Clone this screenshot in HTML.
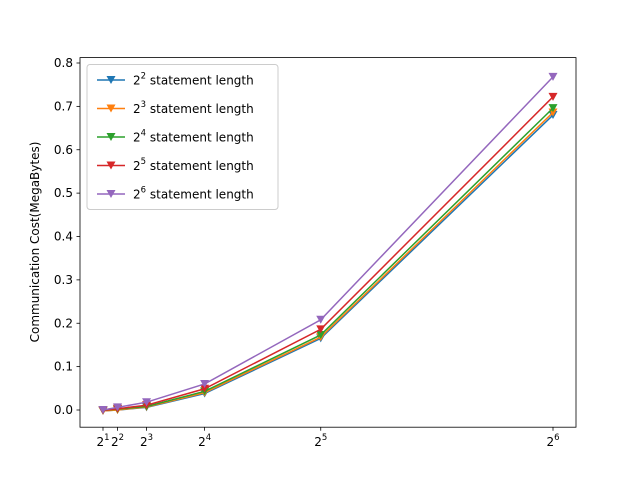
<!DOCTYPE html>
<html><head><meta charset="utf-8"><style>body{margin:0;background:#fff}svg{display:block;font-family:"DejaVu Sans","Liberation Sans",sans-serif}</style></head>
<body>
<svg id="c" width="640" height="480" xmlns="http://www.w3.org/2000/svg"></svg>
<script>
const xs=[2,4,8,16,32,64];
const xTickExp=[1,2,3,4,5,6];
const yTicks=[0,0.1,0.2,0.3,0.4,0.5,0.6,0.7,0.8];
const seriesExp=[2,3,4,5,6];
const s1=[-0.002,0.000,0.006,0.038,0.165,0.680];
const s2=[-0.002,0.000,0.007,0.040,0.168,0.686];
const s3=[-0.001,0.002,0.008,0.043,0.173,0.696];
const s4=[-0.001,0.003,0.011,0.049,0.186,0.722];
const s5=[0.000,0.006,0.018,0.060,0.208,0.768];
const colors=["#1f77b4","#ff7f0e","#2ca02c","#d62728","#9467bd"];
const series=[s1,s2,s3,s4,s5];
const NS="http://www.w3.org/2000/svg";
const svg=document.getElementById('c');
const L=80,R=576,T=57.6,B=427.2;
const X=v=>103+(v-2)*(553-103)/62;
const Y=v=>410-v*(410-63)/0.8;
function el(t,a,p){const e=document.createElementNS(NS,t);for(const k in a)e.setAttribute(k,a[k]);(p||svg).appendChild(e);return e;}
const ax=el('rect',{x:L,y:T,width:R-L,height:B-T,fill:'none',stroke:'#000','stroke-width':0.8});


xs.forEach((v,i)=>{
 el('line',{x1:X(v),x2:X(v),y1:B,y2:B+3.5,stroke:'#000','stroke-width':0.8});
 const t=el('text',{x:X(v),y:B+19,'font-size':12,'text-anchor':'middle'});
 
 
 t.innerHTML='2<tspan dy="-6" font-size="8.5">'+xTickExp[i]+'</tspan>';
});
yTicks.forEach(v=>{
 el('line',{x1:L-3.5,x2:L,y1:Y(v),y2:Y(v),stroke:'#000','stroke-width':0.8});
 const t=el('text',{x:L-7,y:Y(v)+4,'font-size':12,'text-anchor':'end'});
 
 
 t.textContent=v.toFixed(1);
});
const yl=el('text',{x:0,y:0,'font-size':12,'text-anchor':'middle',transform:'translate(39,242) rotate(-90)'});


yl.textContent='Communication Cost(MegaBytes)';
function tri(g,x,y,c){el('path',{d:`M${x-4.5},${y-4} L${x+4.5},${y-4} L${x},${y+4} Z`,fill:c},g);}
series.forEach((s,si)=>{
 const g=el('g',{});
 
 
 el('polyline',{points:s.map((v,i)=>X(xs[i])+','+Y(v)).join(' '),fill:'none',stroke:colors[si],'stroke-width':1.5},g);
 s.forEach((v,i)=>tri(g,X(xs[i]),Y(v),colors[si]));
});
const lg=el('g',{});


el('rect',{x:87,y:64.5,width:191,height:145,rx:3,fill:'#fff','fill-opacity':0.8,stroke:'#ccc'},lg);
seriesExp.forEach((e,i)=>{
 const y=80+i*28.5;
 const g=el('g',{},lg);
 
 
 el('line',{x1:97,x2:125,y1:y,y2:y,stroke:colors[i],'stroke-width':1.5},g);
 tri(g,111,y,colors[i]);
 const t=el('text',{x:133,y:y+4.5,'font-size':12},g);
 t.innerHTML='2<tspan dy="-6" font-size="8.5">'+e+'</tspan><tspan dy="6"> statement length</tspan>';
});
</script>
</body></html>
